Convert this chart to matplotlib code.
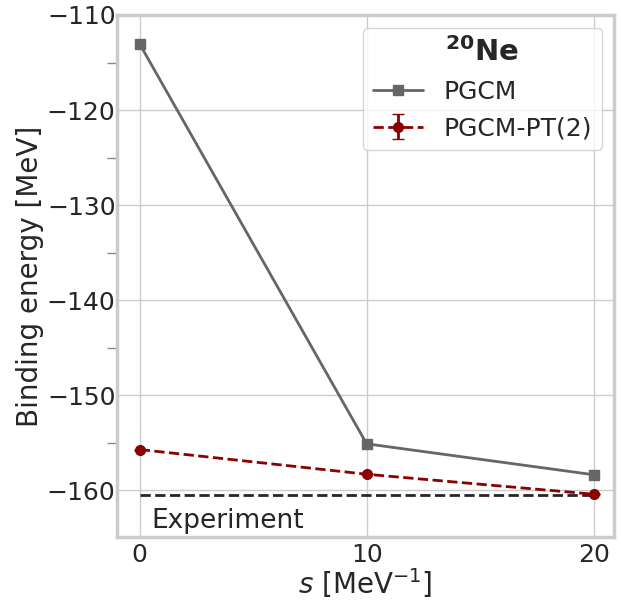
import matplotlib
matplotlib.use("Agg")
import matplotlib.pyplot as plt
import seaborn as sns
from matplotlib.ticker import MultipleLocator

s_values = [0, 10, 20]
pgcm = [-113.05, -155.1, -158.35]
pgcm_pt2 = [-155.7, -158.3, -160.4]
pgcm_pt2_err = [0.0, 0.0, 0.0]
experiment = -160.5
xticks = [0, 10, 20]

sns.set_theme(style="whitegrid", font_scale=1.6)
plt.rcParams['font.family'] = ['DejaVu Sans']

fig = plt.figure(figsize=(6.21, 6.01), dpi=100)
ax = fig.add_axes([117/621, 1-537/601, (614-117)/621, (537-15)/601])

ax.plot(s_values, pgcm, color='#666666', marker='s', markersize=7, lw=2, label='PGCM')
ax.errorbar(s_values, pgcm_pt2, yerr=pgcm_pt2_err, color='#8B0000', marker='o', markersize=7,
            lw=2, ls='--', capsize=4, label='PGCM-PT(2)')
ax.hlines(experiment, s_values[0], s_values[-1], colors='#262626', linestyles='--', lw=2)
ax.text(0.5, -163.2, 'Experiment', fontsize=19, color='#262626', va='center', ha='left')

ax.set_xlim(-1, 20.9)
ax.set_ylim(-164.9, -110)
ax.set_xticks(xticks)
ax.yaxis.set_major_locator(MultipleLocator(10))
ax.yaxis.set_minor_locator(MultipleLocator(5))
ax.tick_params(axis='y', which='minor', left=True, length=7, width=1, color='#888888')
ax.tick_params(axis='y', which='major', left=False, length=0, pad=1)
ax.tick_params(axis='x', which='major', bottom=False, length=0, pad=4)
ax.grid(True, which='major', color='#cccccc', lw=1)
for sp in ax.spines.values():
    sp.set_color('#cccccc')
    sp.set_linewidth(2.5)

ax.set_xlabel('$s$ [MeV$^{-1}$]', fontsize=20, labelpad=0)
ax.set_ylabel('Binding energy [MeV]', fontsize=20, labelpad=2)
ax.tick_params(labelsize=18)

leg = ax.legend(loc='upper right', fontsize=18, title='$\\mathbf{^{20}Ne}$', title_fontsize=21,
                frameon=True, fancybox=True, handlelength=2.0)
leg.get_title().set_fontweight('bold')
leg.get_frame().set_edgecolor('#cccccc')

fig.savefig('out.png', dpi=100)
